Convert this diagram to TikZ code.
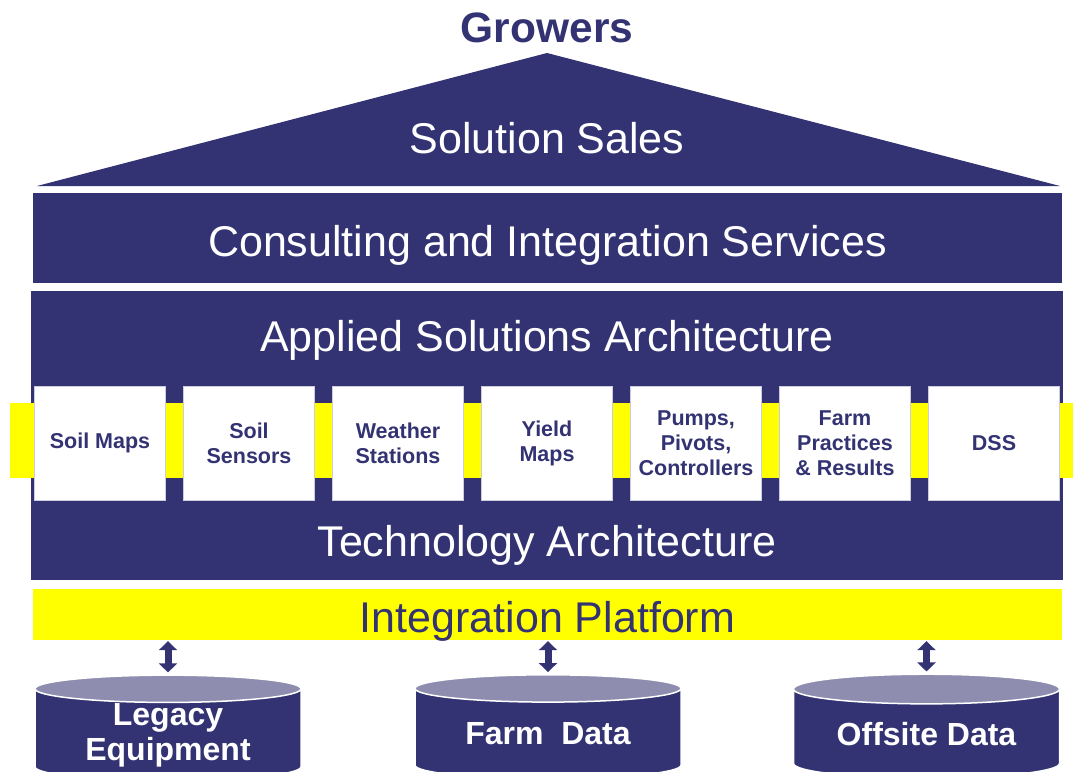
\documentclass[tikz,border=0pt]{standalone}
\usepackage{fontspec}
\setmainfont{Liberation Sans}
\usetikzlibrary{positioning,shapes.geometric,arrows.meta}
\definecolor{navy}{RGB}{51,51,115}
\definecolor{lilac}{RGB}{142,141,176}
\definecolor{brightyellow}{RGB}{255,255,0}
\begin{document}
\begin{tikzpicture}[
                x=1pt,y=-1pt,
                node distance=17pt,
                title/.style={anchor=base,text=white,inner sep=0pt,font=\fontsize{43}{48}\selectfont},
                band/.style={rectangle,fill=navy,inner sep=0pt,minimum width=1029pt},
                tile/.style={rectangle,fill=white,draw=navy!25,line width=1pt,minimum width=131pt,minimum height=114pt,
                             inner sep=0pt,align=center,text=navy,font=\bfseries\fontsize{21.5}{25}\selectfont},
                store/.style={cylinder,shape border rotate=90,aspect=0.165,cylinder uses custom fill,
                              cylinder end fill=lilac,cylinder body fill=navy,draw=white,line width=1.5pt,
                              minimum width=266pt,minimum height=104pt,inner sep=0pt,text=white,align=center,
                              font=\bfseries\fontsize{32}{35}\selectfont},
                link/.style={{Triangle[width=18pt,length=9pt]}-{Triangle[width=18pt,length=9pt]},line width=7pt,navy,
                             shorten >=2pt,shorten <=1pt}
            ]
                \useasboundingbox (0,0) rectangle (1073,771);
                % roof
                \fill[navy] (547,53) -- (1060,186) -- (37,186) -- cycle;
                \node (growers) at (547,42) [anchor=base,inner sep=0pt,text=navy,font=\bfseries\fontsize{42.5}{48}\selectfont] {Growers};
                \node (sales)   at (547,153) [title] {Solution Sales};
                % layers
                \node (consult) at (547.5,238) [band,minimum height=90pt] {};
                \node (consultlabel) at (547.5,256) [title] {Consulting and Integration Services};
                \node (arch) at (547,435.5) [band,minimum width=1032pt,minimum height=289pt] {};
                \node (applied) at (547,351) [title] {Applied Solutions Architecture};
                \node (tech)    at (547,556) [title] {Technology Architecture};
                \fill[brightyellow] (10,403) rectangle (1073,478);
                % applications
                \node (soilmaps) at (100,443)         [tile] {Soil Maps};
                \node (sensors)  [tile,right=of soilmaps] {Soil\\Sensors};
                \node (weather)  [tile,right=of sensors]  {Weather\\Stations};
                \node (yield)    [tile,right=of weather]  {Yield\\Maps};
                \node (pumps)    [tile,right=of yield]    {Pumps,\\Pivots,\\Controllers};
                \node (practice) [tile,right=of pumps]    {Farm\\Practices\\\& Results};
                \node (dss)      [tile,right=of practice] {DSS};
                % platform and data
                \node (platform) at (547.5,614.5) [rectangle,fill=brightyellow,minimum width=1029pt,minimum height=51pt] {};
                \node (platformlabel) at (547.5,632) [anchor=base,inner sep=0pt,text=navy,font=\fontsize{43}{48}\selectfont] {Integration Platform};
                \node (legacy)  at (168,735)   [store] {Legacy\\Equipment};
                \node (farm)    at (548,734)   [store] {Farm\ \ Data};
                \node (offsite) at (926.5,734) [store] {Offsite Data};
                \draw[link] (platform.south -| legacy.north) -- (legacy.north);
                \draw[link] (platform.south -| farm.north) -- (farm.north);
                \draw[link] (platform.south -| offsite.north) -- (offsite.north);
            \end{tikzpicture}
\end{document}
